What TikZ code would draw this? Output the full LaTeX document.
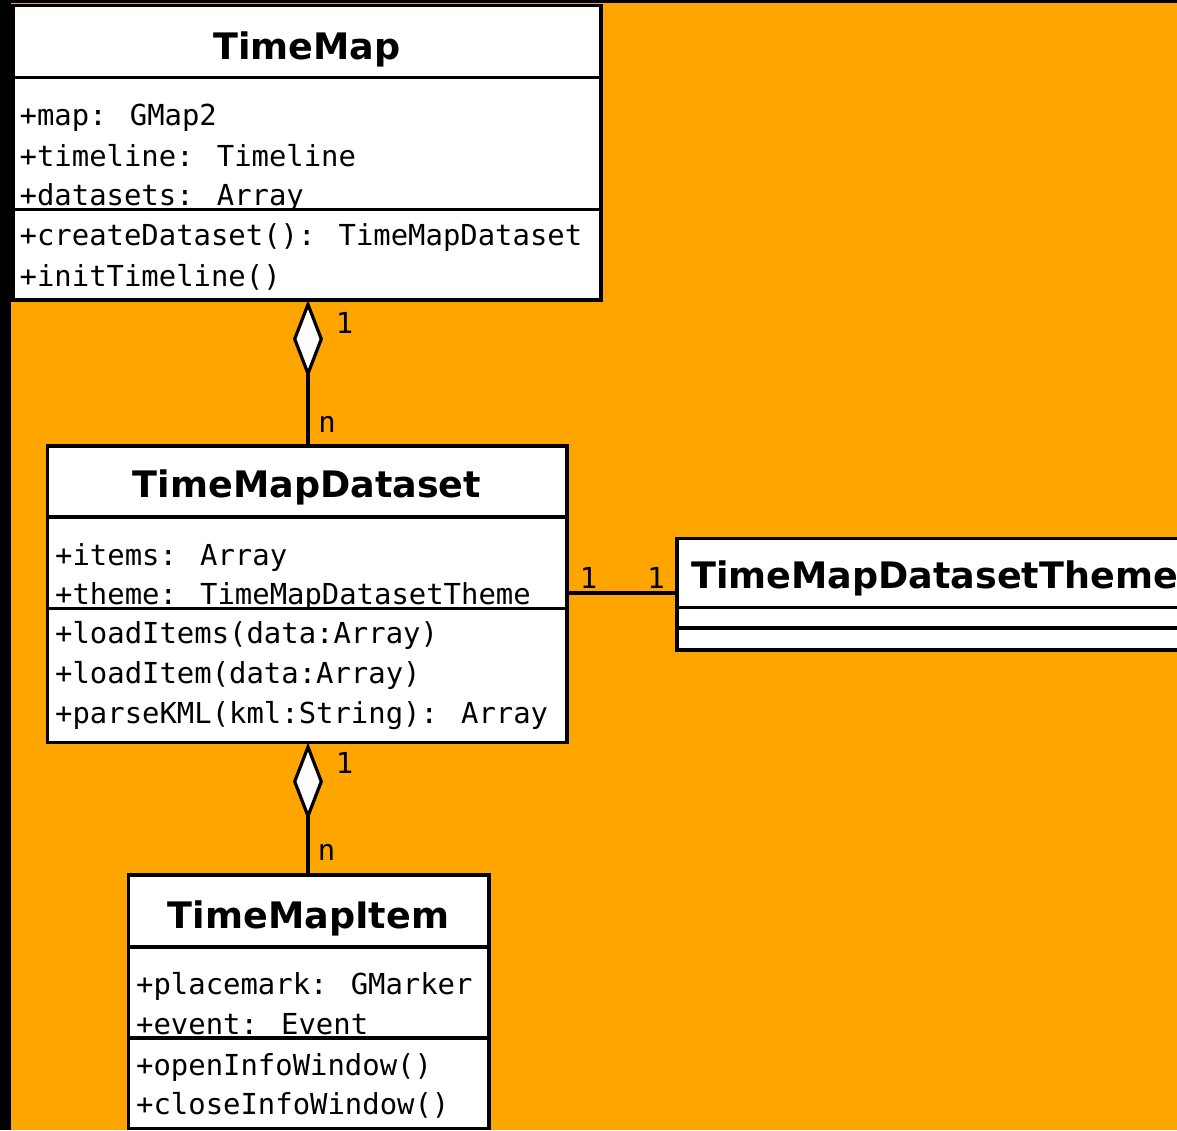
\documentclass[tikz,border=0pt]{standalone}
\usepackage{fontspec}
\setmainfont{DejaVu Sans}
\newfontfamily\umlmono{DejaVu Sans Mono}
\usetikzlibrary{arrows.meta}
\definecolor{canvas}{HTML}{FFA500}
\begin{document}
\begin{tikzpicture}[x=1pt,y=-1pt,
  classbox/.style={draw=black, line width=3.2pt, fill=white, rectangle,
    inner sep=0pt, outer sep=0pt, anchor=north west},
  rule/.style={draw=black, line width=3.2pt},
  classname/.style={anchor=base, inner sep=0pt,
    font=\fontsize{36.5}{40}\selectfont\bfseries},
  member/.style={anchor=base west, inner sep=0pt,
    font=\umlmono\fontsize{28.9}{34}\selectfont},
  mult/.style={anchor=base, inner sep=0pt,
    font=\umlmono\fontsize{28.9}{34}\selectfont},
  link/.style={draw=black, line width=3.2pt},
  composite/.style={link, -{Diamond[length=78pt,width=30pt,fill=white]}}
]
% canvas with its dark edge
\clip (0,0) rectangle (1177,1130);
\fill[black] (0,0) rectangle (1177,1130);
\fill[canvas] (11,3) rectangle (1177,1130);

% ---------- TimeMap ----------
\node[classbox, minimum width=588pt, minimum height=294.5pt] (tm) at (13,5.5) {};
\draw[rule] (tm.west |- 0,77.5) -- (tm.east |- 0,77.5);
\node[classname] (tmname) at (307,59) {TimeMap};
\node[member] (tma1) at (19.5,125) {+map: GMap2};
\node[member] (tma2) at (19.5,166) {+timeline: Timeline};
\node[member] (tma3) at (19.5,205.5) {+datasets: Array};
\node[classbox, minimum width=588pt, minimum height=90.5pt] (tmops) at (13,209.5) {};
\node[member] (tmo1) at (19.5,245) {+createDataset(): TimeMapDataset};
\node[member] (tmo2) at (19.5,286) {+initTimeline()};

% ---------- TimeMapDataset ----------
\node[classbox, minimum width=519.5pt, minimum height=296.5pt] (ds) at (47.5,446) {};
\draw[rule] (ds.west |- 0,517) -- (ds.east |- 0,517);
\node[classname] (dsname) at (307,497) {TimeMapDataset};
\node[member] (dsa1) at (55,565) {+items: Array};
\node[member] (dsa2) at (55,604.5) {+theme: TimeMapDatasetTheme};
\node[classbox, minimum width=519.5pt, minimum height=134pt] (dsops) at (47.5,608.5) {};
\node[member] (dso1) at (55,643.5) {+loadItems(data:Array)};
\node[member] (dso2) at (55,683) {+loadItem(data:Array)};
\node[member] (dso3) at (55,723) {+parseKML(kml:String): Array};

% ---------- TimeMapDatasetTheme ----------
\node[classbox, minimum width=560pt, minimum height=111.5pt] (th) at (677,538.5) {};
\draw[rule] (th.west |- 0,607.5) -- (th.east |- 0,607.5);
\draw[rule] (th.west |- 0,628) -- (th.east |- 0,628);
\node[classname, anchor=base west] (thname) at (691,588) {TimeMapDatasetTheme};

% ---------- TimeMapItem ----------
\node[classbox, minimum width=360.5pt, minimum height=253.5pt] (it) at (128.5,875) {};
\draw[rule] (it.west |- 0,947) -- (it.east |- 0,947);
\node[classname] (itname) at (308.5,928) {TimeMapItem};
\node[member] (ita1) at (136,994) {+placemark: GMarker};
\node[member] (ita2) at (136,1034.5) {+event: Event};
\node[classbox, minimum width=360.5pt, minimum height=90.5pt] (itops) at (128.5,1038) {};
\node[member] (ito1) at (136,1075) {+openInfoWindow()};
\node[member] (ito2) at (136,1114) {+closeInfoWindow()};

% ---------- relations ----------
\draw[composite] (ds.north -| 308,0) -- (tm.south -| 308,0);
\node[mult] (m1a) at (344.5,333) {1};
\node[mult] (m1b) at (327,432) {n};

\draw[composite] (it.north -| 308,0) -- (ds.south -| 308,0);
\node[mult] (m2a) at (344.5,773) {1};
\node[mult] (m2b) at (326.5,860) {n};

\draw[link] (ds.east |- 0,593) -- (th.west |- 0,593);
\node[mult] (m3a) at (588.5,588) {1};
\node[mult] (m3b) at (656,588) {1};
\end{tikzpicture}
\end{document}
